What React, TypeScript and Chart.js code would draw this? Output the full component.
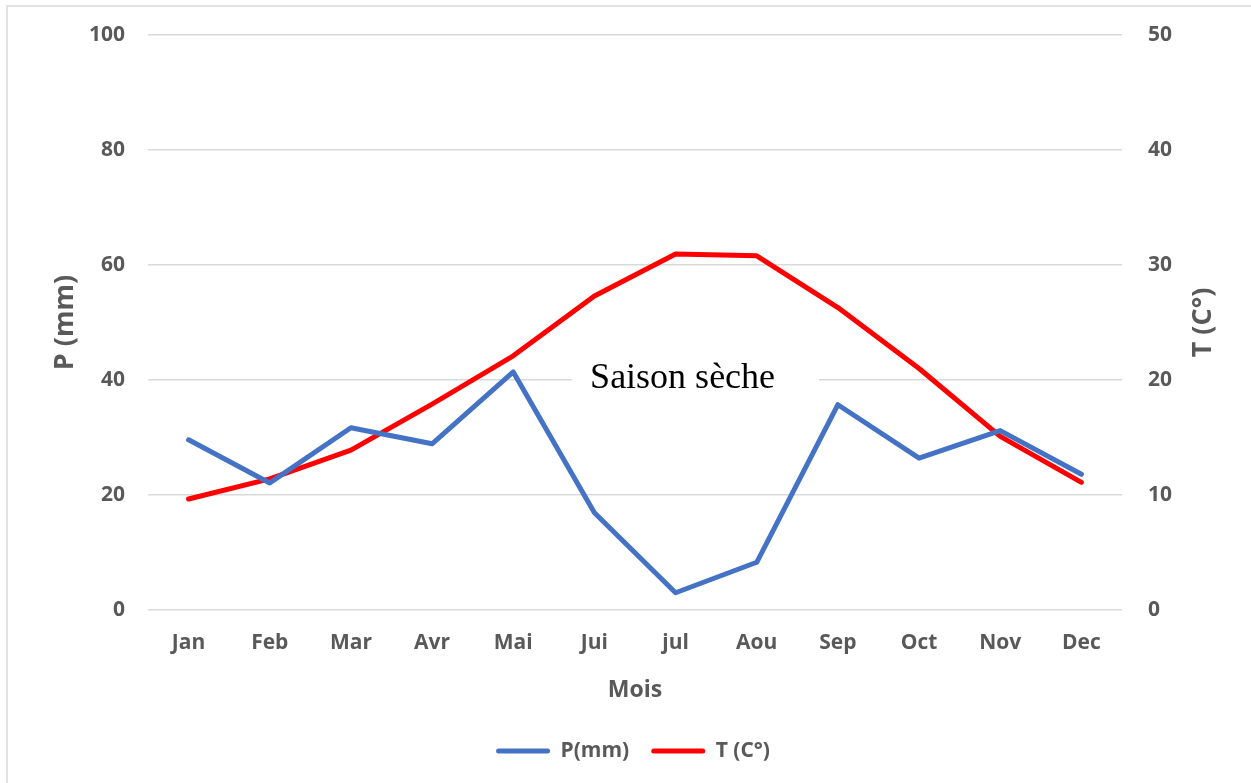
import React, { useEffect, useRef } from "react";
import { Chart, registerables } from "chart.js";

Chart.register(...registerables);

const months = ["Jan", "Feb", "Mar", "Avr", "Mai", "Jui", "jul", "Aou", "Sep", "Oct", "Nov", "Dec"];
const precipitation = [29.6, 22.1, 31.7, 28.9, 41.4, 16.9, 3.0, 8.3, 35.7, 26.4, 31.2, 23.6];
const temperature = [9.65, 11.4, 13.9, 17.9, 22.1, 27.3, 30.96, 30.8, 26.3, 21.0, 15.1, 11.1];
const seriesNames = ["P(mm)", "T (C°)"];
const axisTitles = { x: "Mois", left: "P (mm)", right: "T (C°)" };
const annotationText = "Saison sèche";

const FONT = "'Open Sans', sans-serif";
const TEXT = "#595959";
const GRID = "#d9d9d9";

const framePlugin = {
  id: "frame",
  beforeDraw(chart: any) {
    const { ctx, width, height } = chart;
    ctx.save();
    ctx.fillStyle = "#ffffff";
    ctx.fillRect(0, 0, width, height);
    ctx.strokeStyle = GRID;
    ctx.lineWidth = 1.5;
    ctx.beginPath();
    ctx.moveTo(7, height);
    ctx.lineTo(7, 6);
    ctx.lineTo(width, 6);
    ctx.stroke();
    ctx.restore();
  },
};

const extrasPlugin = {
  id: "extras",
  beforeDatasetsDraw(chart: any) {
    const { ctx } = chart;
    const xs = chart.scales.x;
    const yl = chart.scales.y;
    const cx = xs.getPixelForValue(6) + 7;
    const gy = yl.getPixelForValue(40);
    ctx.save();
    ctx.font = "36px 'Liberation Serif', 'Times New Roman', serif";
    const w = ctx.measureText(annotationText).width;
    const left = cx - w / 2;
    ctx.fillStyle = "#ffffff";
    ctx.fillRect(left - 18, gy - 26, w + 62, 44);
    ctx.fillStyle = "#000000";
    ctx.textAlign = "left";
    ctx.textBaseline = "alphabetic";
    ctx.fillText(annotationText, left, gy + 8);
    ctx.restore();
  },
  afterDraw(chart: any) {
    const { ctx, chartArea } = chart;
    ctx.save();
    ctx.font = `bold 27px ${FONT}`;
    ctx.fillStyle = TEXT;
    ctx.textAlign = "center";
    ctx.textBaseline = "middle";
    ctx.translate(1203, (chartArea.top + chartArea.bottom) / 2);
    ctx.rotate(-Math.PI / 2);
    ctx.fillText(axisTitles.right, 0, 0);
    ctx.restore();
  },
};

export default function App() {
  const ref = useRef<HTMLCanvasElement | null>(null);

  useEffect(() => {
    if (!ref.current) return;
    const chart = new Chart(ref.current, {
      type: "line",
      data: {
        labels: months,
        datasets: [
          {
            label: seriesNames[0],
            data: precipitation,
            borderColor: "#4472C4",
            backgroundColor: "#4472C4",
            borderWidth: 5,
            pointRadius: 0,
            tension: 0,
            yAxisID: "y",
            borderCapStyle: "round",
            borderJoinStyle: "round",
          },
          {
            label: seriesNames[1],
            data: temperature,
            borderColor: "#FF0000",
            backgroundColor: "#FF0000",
            borderWidth: 5,
            pointRadius: 0,
            tension: 0,
            yAxisID: "y1",
            borderCapStyle: "round",
            borderJoinStyle: "round",
          },
        ],
      },
      options: {
        animation: false,
        responsive: false,
        devicePixelRatio: 1,
        layout: { padding: { top: 35, left: 15, right: 0, bottom: 11.5 } },
        plugins: {
          tooltip: { enabled: false },
          legend: {
            position: "bottom",
            labels: {
              boxWidth: 54,
              boxHeight: 5,
              useBorderRadius: true,
              borderRadius: 2.5,
              padding: 22,
              color: TEXT,
              font: { family: FONT, size: 21, weight: "bold" },
              generateLabels: (c: any) =>
                (Chart.defaults.plugins.legend.labels as any)
                  .generateLabels(c)
                  .map((l: any) => ({ ...l, lineWidth: 0, fillStyle: l.strokeStyle })),
            },
          },
        },
        scales: {
          x: {
            offset: true,
            grid: { display: false, drawTicks: false },
            border: { display: false },
            ticks: { color: TEXT, padding: 20, font: { family: FONT, size: 21, weight: "bold" } },
            title: {
              display: true,
              text: axisTitles.x,
              color: TEXT,
              padding: { top: 0, bottom: 14 },
              font: { family: FONT, size: 23, weight: "bold" },
            },
            afterFit: (s: any) => {
              s.height = 108.5;
            },
          },
          y: {
            position: "left",
            min: 0,
            max: 100,
            grid: { color: GRID, lineWidth: 1.5, drawTicks: false },
            border: { display: false },
            ticks: {
              stepSize: 20,
              color: TEXT,
              padding: 23,
              font: { family: FONT, size: 21, weight: "bold", lineHeight: 0.8 },
            },
            title: {
              display: true,
              text: axisTitles.left,
              color: TEXT,
              padding: { top: 34.5, bottom: 0 },
              font: { family: FONT, size: 27, weight: "bold" },
            },
            afterFit: (s: any) => {
              s.width = 133;
            },
          },
          y1: {
            position: "right",
            min: 0,
            max: 50,
            grid: { display: false, drawTicks: false },
            border: { display: false },
            ticks: {
              stepSize: 10,
              color: TEXT,
              padding: 26,
              font: { family: FONT, size: 21, weight: "bold", lineHeight: 0.8 },
            },
            afterFit: (s: any) => {
              s.width = 129;
            },
          },
        },
      },
      plugins: [framePlugin, extrasPlugin],
    } as any);
    return () => chart.destroy();
  }, []);

  return (
    <div style={{ position: "absolute", left: 0, top: 0, width: 1251, height: 783, background: "#fff" }}>
      <canvas ref={ref} width={1251} height={783} style={{ display: "block", width: 1251, height: 783 }} />
    </div>
  );
}
